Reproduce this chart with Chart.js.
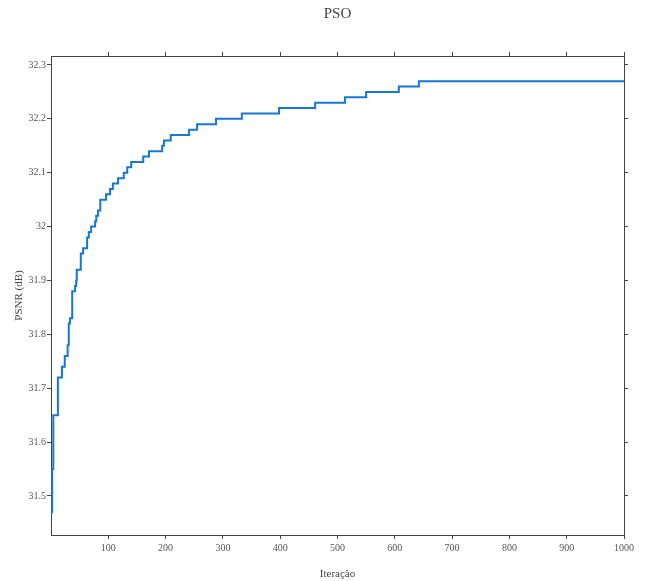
<!DOCTYPE html>
<html>
<head>
<meta charset="utf-8">
<script src="https://cdn.jsdelivr.net/npm/chart.js@4.4.0/dist/chart.umd.min.js"></script>
<style>
  html, body { margin: 0; padding: 0; background: #fff; }
  #wrap { width: 645px; height: 581px; }
</style>
</head>
<body>
<div id="wrap"><canvas id="myChart" width="645" height="581"></canvas></div>
<script>
// iteração onde o PSNR muda (escada)
const iteracoes = [0, 2, 4, 12, 19, 24, 29, 31, 33, 37, 42, 44, 45, 52, 56, 63, 66, 70, 77, 79, 82, 86,
    96, 103, 108, 117, 127, 133, 140, 161, 171, 194, 197, 209, 241, 255, 288, 333, 398, 461, 513, 550, 607, 642, 1000];
const psnr = [31.47, 31.55, 31.65, 31.72, 31.74, 31.76, 31.78, 31.82, 31.83, 31.88, 31.89, 31.90, 31.92, 31.95, 31.96, 31.98, 31.99, 32.00, 32.01, 32.02, 32.03, 32.05,
    32.06, 32.07, 32.08, 32.09, 32.10, 32.11, 32.12, 32.13, 32.14, 32.15, 32.16, 32.17, 32.18, 32.19, 32.20, 32.21, 32.22, 32.23, 32.24, 32.25, 32.26, 32.27, 32.27];
const xTicks = [100, 200, 300, 400, 500, 600, 700, 800, 900, 1000];
const yTicks = [31.5, 31.6, 31.7, 31.8, 31.9, 32, 32.1, 32.2, 32.3];

const pontos = iteracoes.map((it, i) => ({ x: it, y: psnr[i] }));

const fonte = "'Liberation Serif', 'DejaVu Serif', serif";
const corEixo = '#444';

function eixo(pos, ticks, extra) {
    const base = {
        type: 'linear',
        position: pos,
        grid: { drawOnChartArea: false, drawTicks: true, tickLength: 4, color: corEixo, tickColor: corEixo },
        border: { display: true, color: corEixo, width: 1 },
        afterBuildTicks: (s) => { s.ticks = ticks.map(v => ({ value: v })); }
    };
    return Object.assign(base, extra);
}

const config = {
    type: 'line',
    data: {
        datasets: [{
            label: 'PSO',
            data: pontos,
            borderColor: '#1776d6',
            borderWidth: 2,
            pointRadius: 0,
            stepped: true,
            fill: false
        }]
    },
    options: {
        responsive: false,
        animation: false,
        layout: { padding: 0 },
        plugins: {
            legend: { display: false },
            tooltip: { enabled: false },
            title: {
                display: true,
                text: 'PSO',
                fullSize: false,
                color: '#444',
                font: { family: fonte, size: 15, weight: 'normal' },
                padding: { top: 5, bottom: 3 }
            }
        },
        scales: {
            x: eixo('bottom', xTicks, {
                min: 0, max: 1000,
                ticks: { color: '#555', padding: 3, maxRotation: 0, autoSkip: false, font: { family: fonte, size: 10 },
                    callback: (v) => String(v) },
                title: { display: true, text: 'Iteração', color: '#444', font: { family: fonte, size: 11 }, padding: { top: 1.5, bottom: 0 } },
                afterFit: (s) => { s.height = 46; }
            }),
            x2: eixo('top', xTicks, {
                min: 0, max: 1000,
                ticks: { display: false },
                afterFit: (s) => { s.height = 30; }
            }),
            y: eixo('left', yTicks, {
                min: 31.4276, max: 32.3167,
                ticks: { color: '#555', padding: 1, autoSkip: false, font: { family: fonte, size: 10 },
                    callback: (v) => String(+v.toFixed(1)) },
                title: { display: true, text: 'PSNR (dB)', color: '#444', font: { family: fonte, size: 11 }, padding: { top: 13, bottom: 0 } },
                afterFit: (s) => { s.width = 51; }
            }),
            y2: eixo('right', yTicks, {
                min: 31.4276, max: 32.3167,
                ticks: { display: false },
                afterFit: (s) => { s.width = 21; }
            })
        }
    }
};

const myChart = new Chart(document.getElementById('myChart'), config);
</script>
</body>
</html>
